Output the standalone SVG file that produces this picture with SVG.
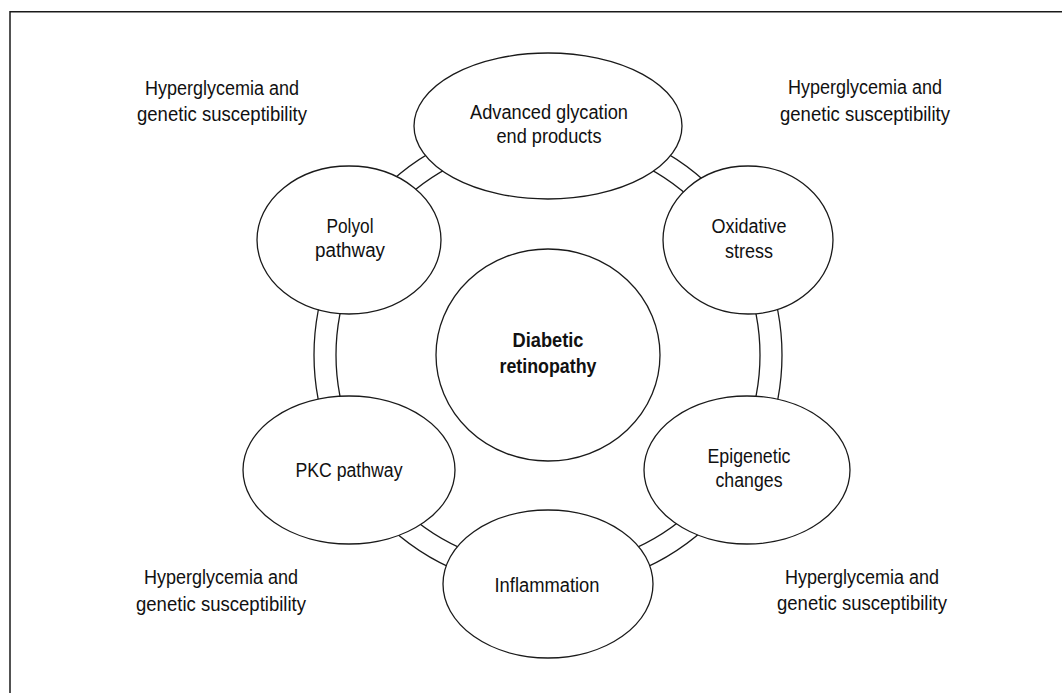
<svg xmlns="http://www.w3.org/2000/svg" width="1062" height="693" viewBox="0 0 1062 693">
<style>
.n{fill:#fff;stroke:#1a1a1a;stroke-width:1.3}
.ring{fill:none;stroke:#1a1a1a;stroke-width:1.3}
.frame{fill:none;stroke:#1a1a1a;stroke-width:1.5}
text{font-family:"Liberation Sans",Arial,sans-serif;font-size:19.5px;fill:#111;text-anchor:middle}
.b{font-weight:bold}
</style>
<rect width="1062" height="693" fill="#fff"/>
<path class="frame" d="M10,693 V11.7 H1062"/>
<g id="connectors">
<circle class="ring" cx="548" cy="355" r="234"/>
<circle class="ring" cx="548" cy="355" r="212"/>
</g>
<g id="center">
<ellipse class="n" cx="548" cy="355" rx="112" ry="106"/>
<text class="b" x="548" y="347" textLength="71" lengthAdjust="spacingAndGlyphs">Diabetic</text>
<text class="b" x="548" y="373" textLength="97" lengthAdjust="spacingAndGlyphs">retinopathy</text>
</g>
<g id="age">
<ellipse class="n" cx="548" cy="126" rx="134" ry="73"/>
<text x="549" y="119" textLength="158" lengthAdjust="spacingAndGlyphs">Advanced glycation</text>
<text x="549" y="143" textLength="105" lengthAdjust="spacingAndGlyphs">end products</text>
</g>
<g id="polyol">
<ellipse class="n" cx="349" cy="240" rx="92" ry="74"/>
<text x="350" y="233" textLength="47" lengthAdjust="spacingAndGlyphs">Polyol</text>
<text x="350" y="257" textLength="70" lengthAdjust="spacingAndGlyphs">pathway</text>
</g>
<g id="oxidative">
<ellipse class="n" cx="748" cy="240" rx="85" ry="74"/>
<text x="749" y="233" textLength="75" lengthAdjust="spacingAndGlyphs">Oxidative</text>
<text x="749" y="258" textLength="48" lengthAdjust="spacingAndGlyphs">stress</text>
</g>
<g id="pkc">
<ellipse class="n" cx="349" cy="470" rx="106" ry="74"/>
<text x="349" y="477" textLength="107" lengthAdjust="spacingAndGlyphs">PKC pathway</text>
</g>
<g id="epigenetic">
<ellipse class="n" cx="747" cy="470" rx="103" ry="74"/>
<text x="749" y="463" textLength="83" lengthAdjust="spacingAndGlyphs">Epigenetic</text>
<text x="749" y="487" textLength="67" lengthAdjust="spacingAndGlyphs">changes</text>
</g>
<g id="inflammation">
<ellipse class="n" cx="548" cy="584" rx="105" ry="74"/>
<text x="547" y="592" textLength="105" lengthAdjust="spacingAndGlyphs">Inflammation</text>
</g>
<g id="label-tl">
<text x="222" y="95" textLength="154" lengthAdjust="spacingAndGlyphs">Hyperglycemia and</text>
<text x="222" y="121" textLength="170" lengthAdjust="spacingAndGlyphs">genetic susceptibility</text>
</g>
<g id="label-tr">
<text x="865" y="94" textLength="154" lengthAdjust="spacingAndGlyphs">Hyperglycemia and</text>
<text x="865" y="121" textLength="170" lengthAdjust="spacingAndGlyphs">genetic susceptibility</text>
</g>
<g id="label-bl">
<text x="221" y="584" textLength="154" lengthAdjust="spacingAndGlyphs">Hyperglycemia and</text>
<text x="221" y="611" textLength="170" lengthAdjust="spacingAndGlyphs">genetic susceptibility</text>
</g>
<g id="label-br">
<text x="862" y="584" textLength="154" lengthAdjust="spacingAndGlyphs">Hyperglycemia and</text>
<text x="862" y="610" textLength="170" lengthAdjust="spacingAndGlyphs">genetic susceptibility</text>
</g>
</svg>
